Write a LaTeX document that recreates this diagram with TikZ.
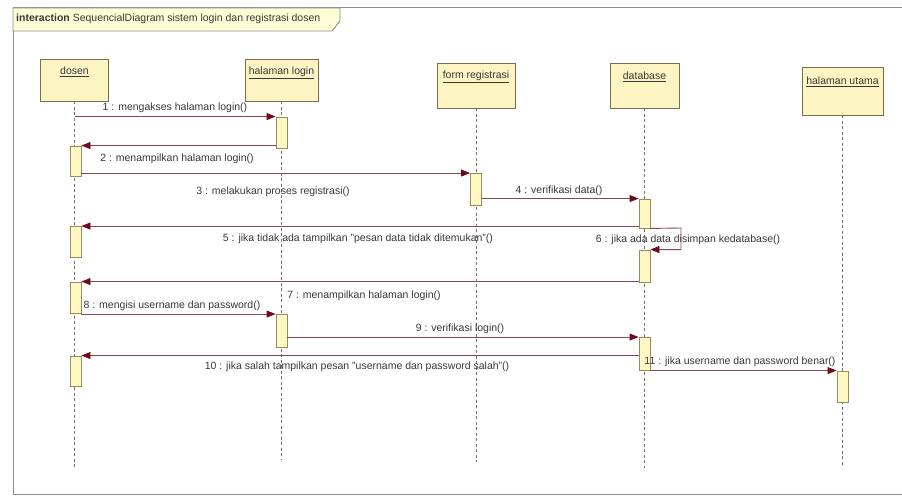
\documentclass[tikz,border=0pt]{standalone}
\usepackage{fontspec}
\setmainfont{Liberation Sans}
\usetikzlibrary{arrows.meta}

\definecolor{framec}{HTML}{8C8C8C}
\definecolor{tabfill}{HTML}{FFFDD6}
\definecolor{headfill}{HTML}{FCF4C2}
\definecolor{headline}{HTML}{7A6E48}
\definecolor{actfill}{HTML}{FFF8C2}
\definecolor{actline}{HTML}{9A8A5A}
\definecolor{msgc}{HTML}{8A4654}
\definecolor{tipc}{HTML}{6E0A1C}
\definecolor{lifec}{HTML}{707070}
\definecolor{txtc}{HTML}{383838}

\tikzset{
  headbox/.style={draw=headline, fill=headfill, line width=0.9pt, inner sep=0pt},
  headtxt/.style={text=txtc, inner sep=0pt, anchor=base},
  actbox/.style={draw=actline, fill=actfill, line width=0.9pt, inner sep=0pt, minimum width=11pt},
  lifeline/.style={draw=lifec, line width=0.7pt, dash pattern=on 3pt off 2.5pt},
  msg/.style={draw=msgc, line width=0.9pt, -{Triangle[length=9pt,width=7pt,fill=tipc,color=tipc]}},
  msglbl/.style={text=txtc, inner sep=0pt, anchor=base},
}

\begin{document}
\begin{tikzpicture}[x=1pt, y=-1pt, font=\fontsize{10.5}{12}\selectfont]
\useasboundingbox (0,0) rectangle (902,497);
\fill[white] (0,0) rectangle (902,497);

% frame of the interaction
\draw[framec, line width=1pt] (902,8) -- (13,8) -- (13,494) -- (902,494);
\draw[framec, fill=tabfill, line width=0.9pt] (13,8) -- (340,8) -- (340,21) -- (332,31) -- (13,31) -- cycle;
\node[text=txtc, anchor=base west, inner sep=0pt] (title) at (16,22)
  {\textbf{interaction} SequencialDiagram sistem login dan registrasi dosen};

% lifeline heads
\node[headbox, minimum width=68pt, minimum height=42pt] (dosen) at (74.5,80) {};
\node[headbox, minimum width=73pt, minimum height=42pt] (login) at (281.5,80) {};
\node[headbox, minimum width=78pt, minimum height=45pt] (form) at (476,85.5) {};
\node[headbox, minimum width=69pt, minimum height=45pt] (db) at (644.5,85.5) {};
\node[headbox, minimum width=81pt, minimum height=48pt] (utama) at (842.5,91) {};

\node[headtxt] (tdosen) at (74.5,75) {\underline{dosen}};
\node[headtxt] (tlogin) at (281.5,75) {\underline{halaman login}};
\node[headtxt] (tform) at (476,79) {\underline{form registrasi}};
\node[headtxt] (tdb) at (644.5,80) {\underline{database}};
\node[headtxt] (tutama) at (842.5,85) {\underline{halaman utama}};

% lifelines
\coordinate (dosenEnd) at (74.5,468);
\coordinate (loginEnd) at (281.5,460);
\coordinate (formEnd) at (476,462);
\coordinate (dbEnd) at (644.5,468);
\coordinate (utamaEnd) at (842.5,467);
\draw[lifeline] (dosen.south) -- (dosenEnd);
\draw[lifeline] (login.south) -- (loginEnd);
\draw[lifeline] (form.south) -- (formEnd);
\draw[lifeline] (db.south) -- (dbEnd);
\draw[lifeline] (utama.south) -- (utamaEnd);

% activation bars
\node[actbox, minimum height=31pt] (aL1) at (281.5,132.5) {};
\node[actbox, minimum height=30pt] (aD1) at (75.5,161) {};
\node[actbox, minimum height=32pt] (aF1) at (476,189.5) {};
\node[actbox, minimum height=29pt] (aB1) at (644.5,213.5) {};
\node[actbox, minimum height=31pt] (aD2) at (75.5,242) {};
\node[actbox, minimum height=32pt] (aB2) at (644.5,266) {};
\node[actbox, minimum height=31pt] (aD3) at (75.5,297.5) {};
\node[actbox, minimum height=33pt] (aL2) at (281.5,331) {};
\node[actbox, minimum height=33pt] (aB3) at (644.5,354) {};
\node[actbox, minimum height=30pt] (aD4) at (75.5,371) {};
\node[actbox, minimum height=31pt] (aU1) at (842.5,386.5) {};

% messages
\draw[msg] (dosen |- aL1.north west) -- (aL1.north west);
\draw[msg] (aL1.west |- aD1.north) -- (aD1.north east);
\draw[msg] (aD1.east |- aF1.north) -- (aF1.north west);
\draw[msg] (aF1.east |- aB1.north) -- (aB1.north west);
\draw[msg] (aB1.west |- aD2.north) -- (aD2.north east);
\coordinate (selfR) at (681,228);
\draw[msg] (aB1.south east) -- (selfR) |- (aB2.north east);
\draw[msg] (aB2.west |- aD3.north) -- (aD3.north east);
\draw[msg] (aD3.east |- aL2.north) -- (aL2.north west);
\draw[msg] (aL2.east |- aB3.north) -- (aB3.north west);
\draw[msg] (aB3.west |- aD4.north) -- (aD4.north east);
\draw[msg] (aB3.east |- aU1.north) -- (aU1.north west);

% message labels
\node[msglbl] (m1) at (175,111) {1 : mengakses halaman login()};
\node[msglbl] (m2) at (177,162) {2 : menampilkan halaman login()};
\node[msglbl] (m3) at (273,195) {3 : melakukan proses registrasi()};
\node[msglbl] (m4) at (559,194) {4 : verifikasi data()};
\node[msglbl] (m5) at (358,241) {5 : jika tidak ada tampilkan "pesan data tidak ditemukan"()};
\node[msglbl] (m6) at (688,243) {6 : jika ada data disimpan kedatabase()};
\node[msglbl] (m7) at (364,298) {7 : menampilkan halaman login()};
\node[msglbl] (m8) at (172,308) {8 : mengisi username dan password()};
\node[msglbl] (m9) at (460,331) {9 : verifikasi login()};
\node[msglbl] (m10) at (357,369) {10 : jika salah tampilkan pesan "username dan password salah"()};
\node[msglbl] (m11) at (740,364) {11 : jika username dan password benar()};
\end{tikzpicture}
\end{document}
